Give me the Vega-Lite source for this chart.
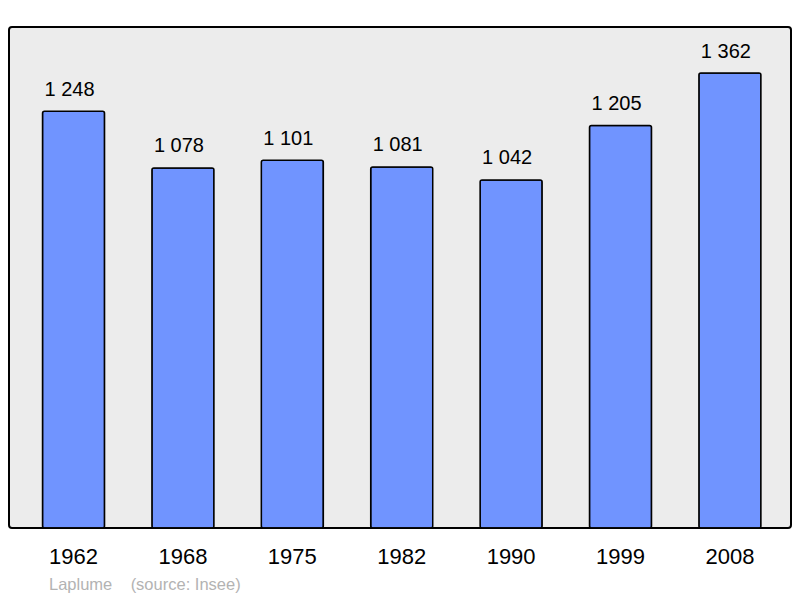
{
  "$schema": "https://vega.github.io/schema/vega-lite/v6.json",
  "width": 782,
  "height": 501,
  "autosize": "none",
  "padding": {"left": 9, "top": 27, "right": 9, "bottom": 70},
  "background": "white",
  "config": {
    "view": {"fill": "#ececec", "stroke": "#000000", "strokeWidth": 2, "cornerRadius": 3},
    "font": "Liberation Sans",
    "locale": {"number": {"decimal": ",", "thousands": "\u00a0", "grouping": [3], "currency": ["", " €"]}}
  },
  "title": {
    "text": "Laplume\u00a0\u00a0\u00a0\u00a0(source: Insee)",
    "orient": "bottom",
    "anchor": "start",
    "frame": "group",
    "dx": 40,
    "offset": 10,
    "fontSize": 16.5,
    "fontWeight": "normal",
    "color": "#b3b3b3",
    "font": "Liberation Sans"
  },
  "data": {
    "values": [
      {"year": "1962", "population": 1248},
      {"year": "1968", "population": 1078},
      {"year": "1975", "population": 1101},
      {"year": "1982", "population": 1081},
      {"year": "1990", "population": 1042},
      {"year": "1999", "population": 1205},
      {"year": "2008", "population": 1362}
    ]
  },
  "encoding": {
    "x": {
      "field": "year",
      "type": "ordinal",
      "scale": {"paddingInner": 0.433, "paddingOuter": 0.2907, "align": 0.527},
      "axis": {
        "title": null,
        "domain": false,
        "ticks": false,
        "labelAngle": 0,
        "labelFontSize": 22,
        "labelColor": "#000000",
        "labelFont": "Liberation Sans",
        "labelPadding": 18
      }
    },
    "y": {
      "field": "population",
      "type": "quantitative",
      "scale": {"domain": [0, 1500], "nice": false, "zero": true},
      "axis": null
    }
  },
  "layer": [
    {
      "mark": {"type": "bar", "fill": "#7094ff", "stroke": "#000000", "strokeWidth": 1.5, "cornerRadius": 2}
    },
    {
      "mark": {"type": "text", "baseline": "alphabetic", "dx": -4, "dy": -15.5, "fontSize": 20, "color": "#000000", "font": "Liberation Sans"},
      "encoding": {
        "text": {"field": "population", "type": "quantitative", "format": ",d", "formatType": "number"}
      }
    }
  ]
}
